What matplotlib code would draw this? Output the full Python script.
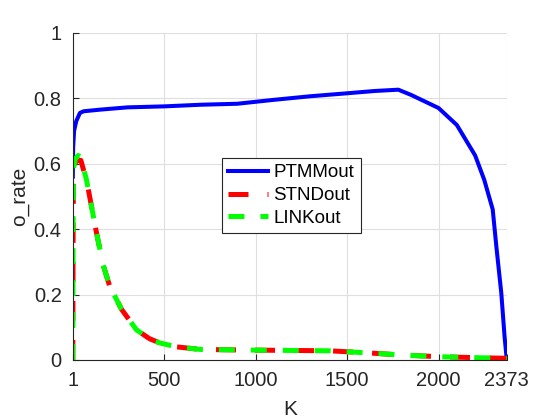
import numpy as np
import matplotlib
matplotlib.use("Agg")
import matplotlib.pyplot as plt

plt.rcParams["font.family"] = ["Liberation Sans", "DejaVu Sans"]
plt.rcParams["lines.scale_dashes"] = False

# values
k_ptmm = [1, 3, 8, 20, 40, 60, 150, 300, 500, 700, 900, 1100, 1300, 1500, 1650, 1780,
          1850, 2000, 2100, 2200, 2250, 2296, 2316, 2343, 2361, 2373]
ptmm = [0.56, 0.65, 0.70, 0.73, 0.755, 0.76, 0.765, 0.772, 0.775, 0.78, 0.783, 0.795,
        0.806, 0.815, 0.822, 0.826, 0.81, 0.77, 0.718, 0.625, 0.55, 0.46, 0.346, 0.204,
        0.07, 0.0]
k_std = [1, 3, 6, 15, 30, 45, 60, 76, 103, 130, 167, 203, 267, 349, 420, 476, 567, 700,
         1000, 1400, 1600, 1800, 2000, 2200, 2373]
stnd = [0.0, 0.45, 0.58, 0.605, 0.61, 0.61, 0.58, 0.55, 0.47, 0.39, 0.29, 0.225, 0.155,
        0.092, 0.065, 0.052, 0.04, 0.032, 0.03, 0.028, 0.022, 0.015, 0.01, 0.007, 0.005]
link = [0.0, 0.46, 0.59, 0.615, 0.625, 0.62, 0.585, 0.55, 0.47, 0.39, 0.29, 0.225, 0.155,
        0.092, 0.065, 0.052, 0.04, 0.032, 0.03, 0.028, 0.022, 0.015, 0.01, 0.007, 0.005]
xticks = [1, 500, 1000, 1500, 2000, 2373]
yticks = [0, 0.2, 0.4, 0.6, 0.8, 1]

fig = plt.figure(figsize=(5.6, 4.2), dpi=100)
ax = fig.add_axes([0.130, 0.143, 0.775, 0.779])
ax.plot(k_ptmm, ptmm, color="#0000ff", lw=2.9, label="PTMMout")
ax.plot(k_std, stnd, color="#ff0000", lw=3.6, dashes=(14.4, 13.7), label="STNDout")
ax.plot(k_std, link, color="#00ff00", lw=3.6, dashes=(11.5, 11.5), label="LINKout")

ax.set_xlim(1, 2373)
ax.set_ylim(0, 1)
ax.set_xticks(xticks)
ax.set_xticklabels([str(t) for t in xticks])
ax.set_yticks(yticks)
ax.set_yticklabels(["0", "0.2", "0.4", "0.6", "0.8", "1"])
ax.grid(True, color="#dfdfdf", lw=0.8)
ax.set_axisbelow(True)
for s in ["top", "right"]:
    ax.spines[s].set_visible(False)
for s in ["left", "bottom"]:
    ax.spines[s].set_color("#262626")
    ax.spines[s].set_linewidth(0.8)
ax.tick_params(direction="in", length=4, colors="#262626", labelsize=14.5, pad=8)
ax.set_xlabel("K", fontsize=15, color="#262626", labelpad=7)
ax.set_ylabel("o_rate", fontsize=15, color="#262626")
ax.yaxis.set_label_coords(-0.10, 0.5)

leg = ax.legend(loc="upper left", bbox_to_anchor=(0.343, 0.618), borderaxespad=0,
                fontsize=13.5, handlelength=2.1, handletextpad=0.3, labelspacing=0.3,
                fancybox=False, framealpha=1, edgecolor="#262626", borderpad=0.35)
leg.get_frame().set_linewidth(0.8)

fig.savefig("out.png", dpi=100)
